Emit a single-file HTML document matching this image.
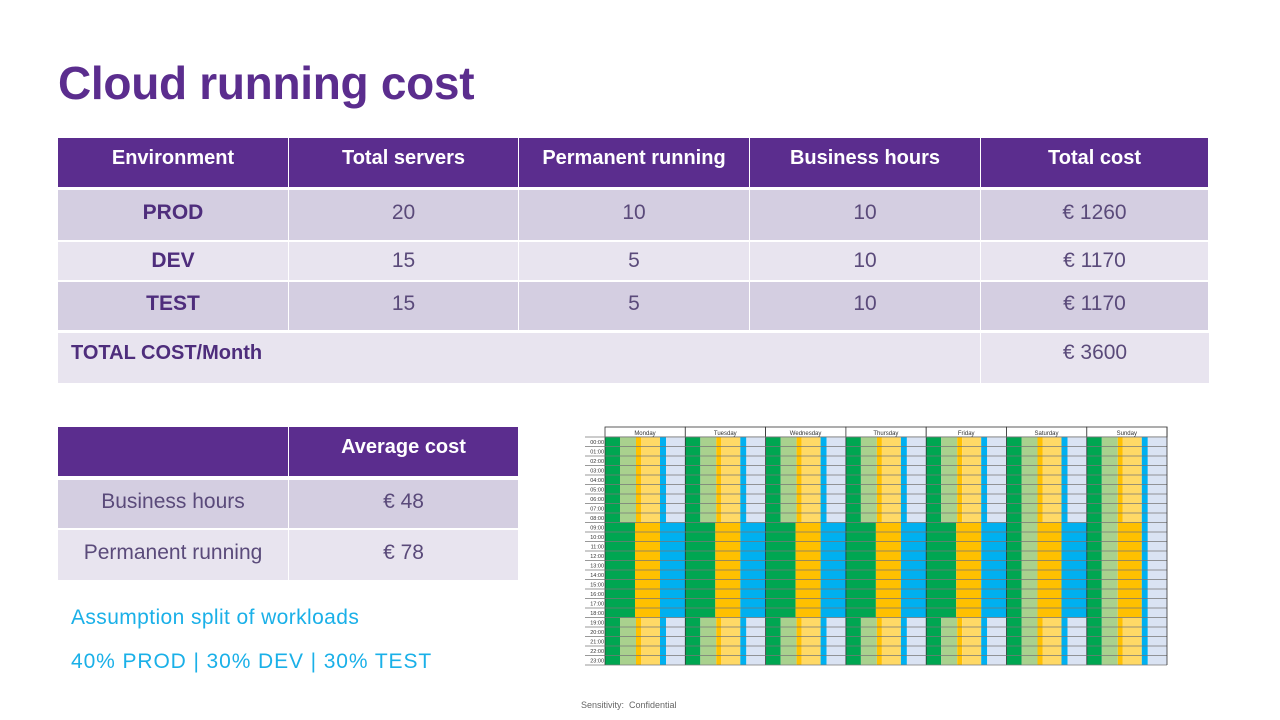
<!DOCTYPE html>
<html><head><meta charset="utf-8"><style>
body{margin:0;width:1280px;height:720px;background:#fff;position:relative;font-family:"Liberation Sans",sans-serif;overflow:hidden}
.a{position:absolute;box-sizing:border-box;display:flex;align-items:center;justify-content:center;font-size:21px;color:#5a4a7a;padding-bottom:4px}
.h{background:#5b2d8e;color:#fff;font-weight:bold;font-size:20px;padding-bottom:8px}
.d{background:#d4cee1}.l{background:#e8e4ef}
.z{padding-bottom:0}
.b{font-weight:bold;color:#4e2d7c}
</style></head><body>
<div style="position:absolute;left:58px;top:56px;font-size:46px;font-weight:bold;color:#5b2d8e;letter-spacing:-0.3px">Cloud running cost</div>
<div id="t"></div>
<div style="position:absolute;left:71px;top:606px;font-size:21px;color:#1ab0e8;letter-spacing:0.4px">Assumption split of workloads</div>
<div style="position:absolute;left:71px;top:650px;font-size:21px;color:#1ab0e8;letter-spacing:0.9px">40% PROD | 30% DEV | 30% TEST</div>
<div style="position:absolute;left:581px;top:700px;font-size:9px;color:#666">Sensitivity:&nbsp; Confidential</div>
<svg id="s" style="position:absolute;left:0;top:0" width="1280" height="720"></svg>
<script>
var cx=[58,289,519,750,981,1209],h='';
function c(x1,x2,y1,y2,cl,t){h+='<div class="a '+cl+'" style="left:'+x1+'px;top:'+y1+'px;width:'+(x2-x1)+'px;height:'+(y2-y1)+'px">'+t+'</div>';}
var hd=['Environment','Total servers','Permanent running','Business hours','Total cost'];
for(var i=0;i<5;i++)c(cx[i],cx[i+1]-1,138,187,'h',hd[i]);
var rows=[[190,240,'d',['PROD','20','10','10','€ 1260']],[242,280,'l z',['DEV','15','5','10','€ 1170']],[282,330,'d',['TEST','15','5','10','€ 1170']]];
rows.forEach(function(r){for(var i=0;i<5;i++)c(cx[i],cx[i+1]-1,r[0],r[1],r[2]+(i==0?' b':''),r[3][i]);});
h+='<div class="a l b" style="left:58px;top:333px;width:922px;height:50px;justify-content:flex-start;padding-left:13px;font-size:20px;padding-bottom:10px">TOTAL COST/Month</div>';
h+='<div class="a l" style="left:981px;top:333px;width:228px;height:50px;padding-bottom:10px">€ 3600</div>';
c(58,288,427,476,'h','');c(289,518,427,476,'h','Average cost');
c(58,288,480,528,'d','Business hours');c(289,518,480,528,'d','€ 48');
c(58,288,530,580,'l','Permanent running');c(289,518,530,580,'l','€ 78');
document.getElementById('t').innerHTML=h;
var s='',G='#00a651',LG='#a9d18e',O='#ffc000',LO='#ffd966',B='#00b0f0',LB='#dae3f3';
function R(x,y,w,hh,f){s+='<rect x="'+x+'" y="'+y+'" width="'+w+'" height="'+hh+'" fill="'+f+'"/>';}
var days=['Monday','Tuesday','Wednesday','Thursday','Friday','Saturday','Sunday'],y0=437,rh=9.5;
for(var d=0;d<7;d++){var x=605+d*80.3;
R(x,427,80.3,10,'#fff');s+='<rect x="'+x+'" y="427" width="80.3" height="10" fill="none" stroke="#333" stroke-width="0.8"/>';
s+='<text x="'+(x+40)+'" y="435" font-size="6" text-anchor="middle" fill="#333" font-family="Liberation Sans">'+days[d]+'</text>';
for(var r=0;r<24;r++){var y=y0+r*rh,day=r>=9&&r<=18;
if(d<5&&day){R(x,y,30,rh,G);R(x+30,y,25,rh,O);R(x+55,y,25.3,rh,B);}
else{R(x,y,15,rh,G);R(x+15,y,16,rh,LG);
 if(d>=5&&day){R(x+31,y,24,rh,O);}else{R(x+31,y,5,rh,O);R(x+36,y,19,rh,LO);}
 if(d==5&&day){R(x+55,y,25.3,rh,B);}else{R(x+55,y,6,rh,B);R(x+61,y,19.3,rh,LB);}}}
s+='<line x1="'+x+'" y1="437" x2="'+x+'" y2="665" stroke="#333" stroke-width="0.8"/>';}
for(var r=0;r<=24;r++){var y=y0+r*rh;s+='<line x1="585" x2="1167" y1="'+y+'" y2="'+y+'" stroke="#777" stroke-width="0.7"/>';
if(r<24)s+='<text x="604" y="'+(y+7)+'" font-size="5.5" text-anchor="end" fill="#333" font-family="Liberation Sans">'+(r<10?'0':'')+r+':00</text>';}
s+='<line x1="1167" y1="427" x2="1167" y2="665" stroke="#333" stroke-width="0.8"/>';
document.getElementById('s').innerHTML=s;
</script>
</body></html>
